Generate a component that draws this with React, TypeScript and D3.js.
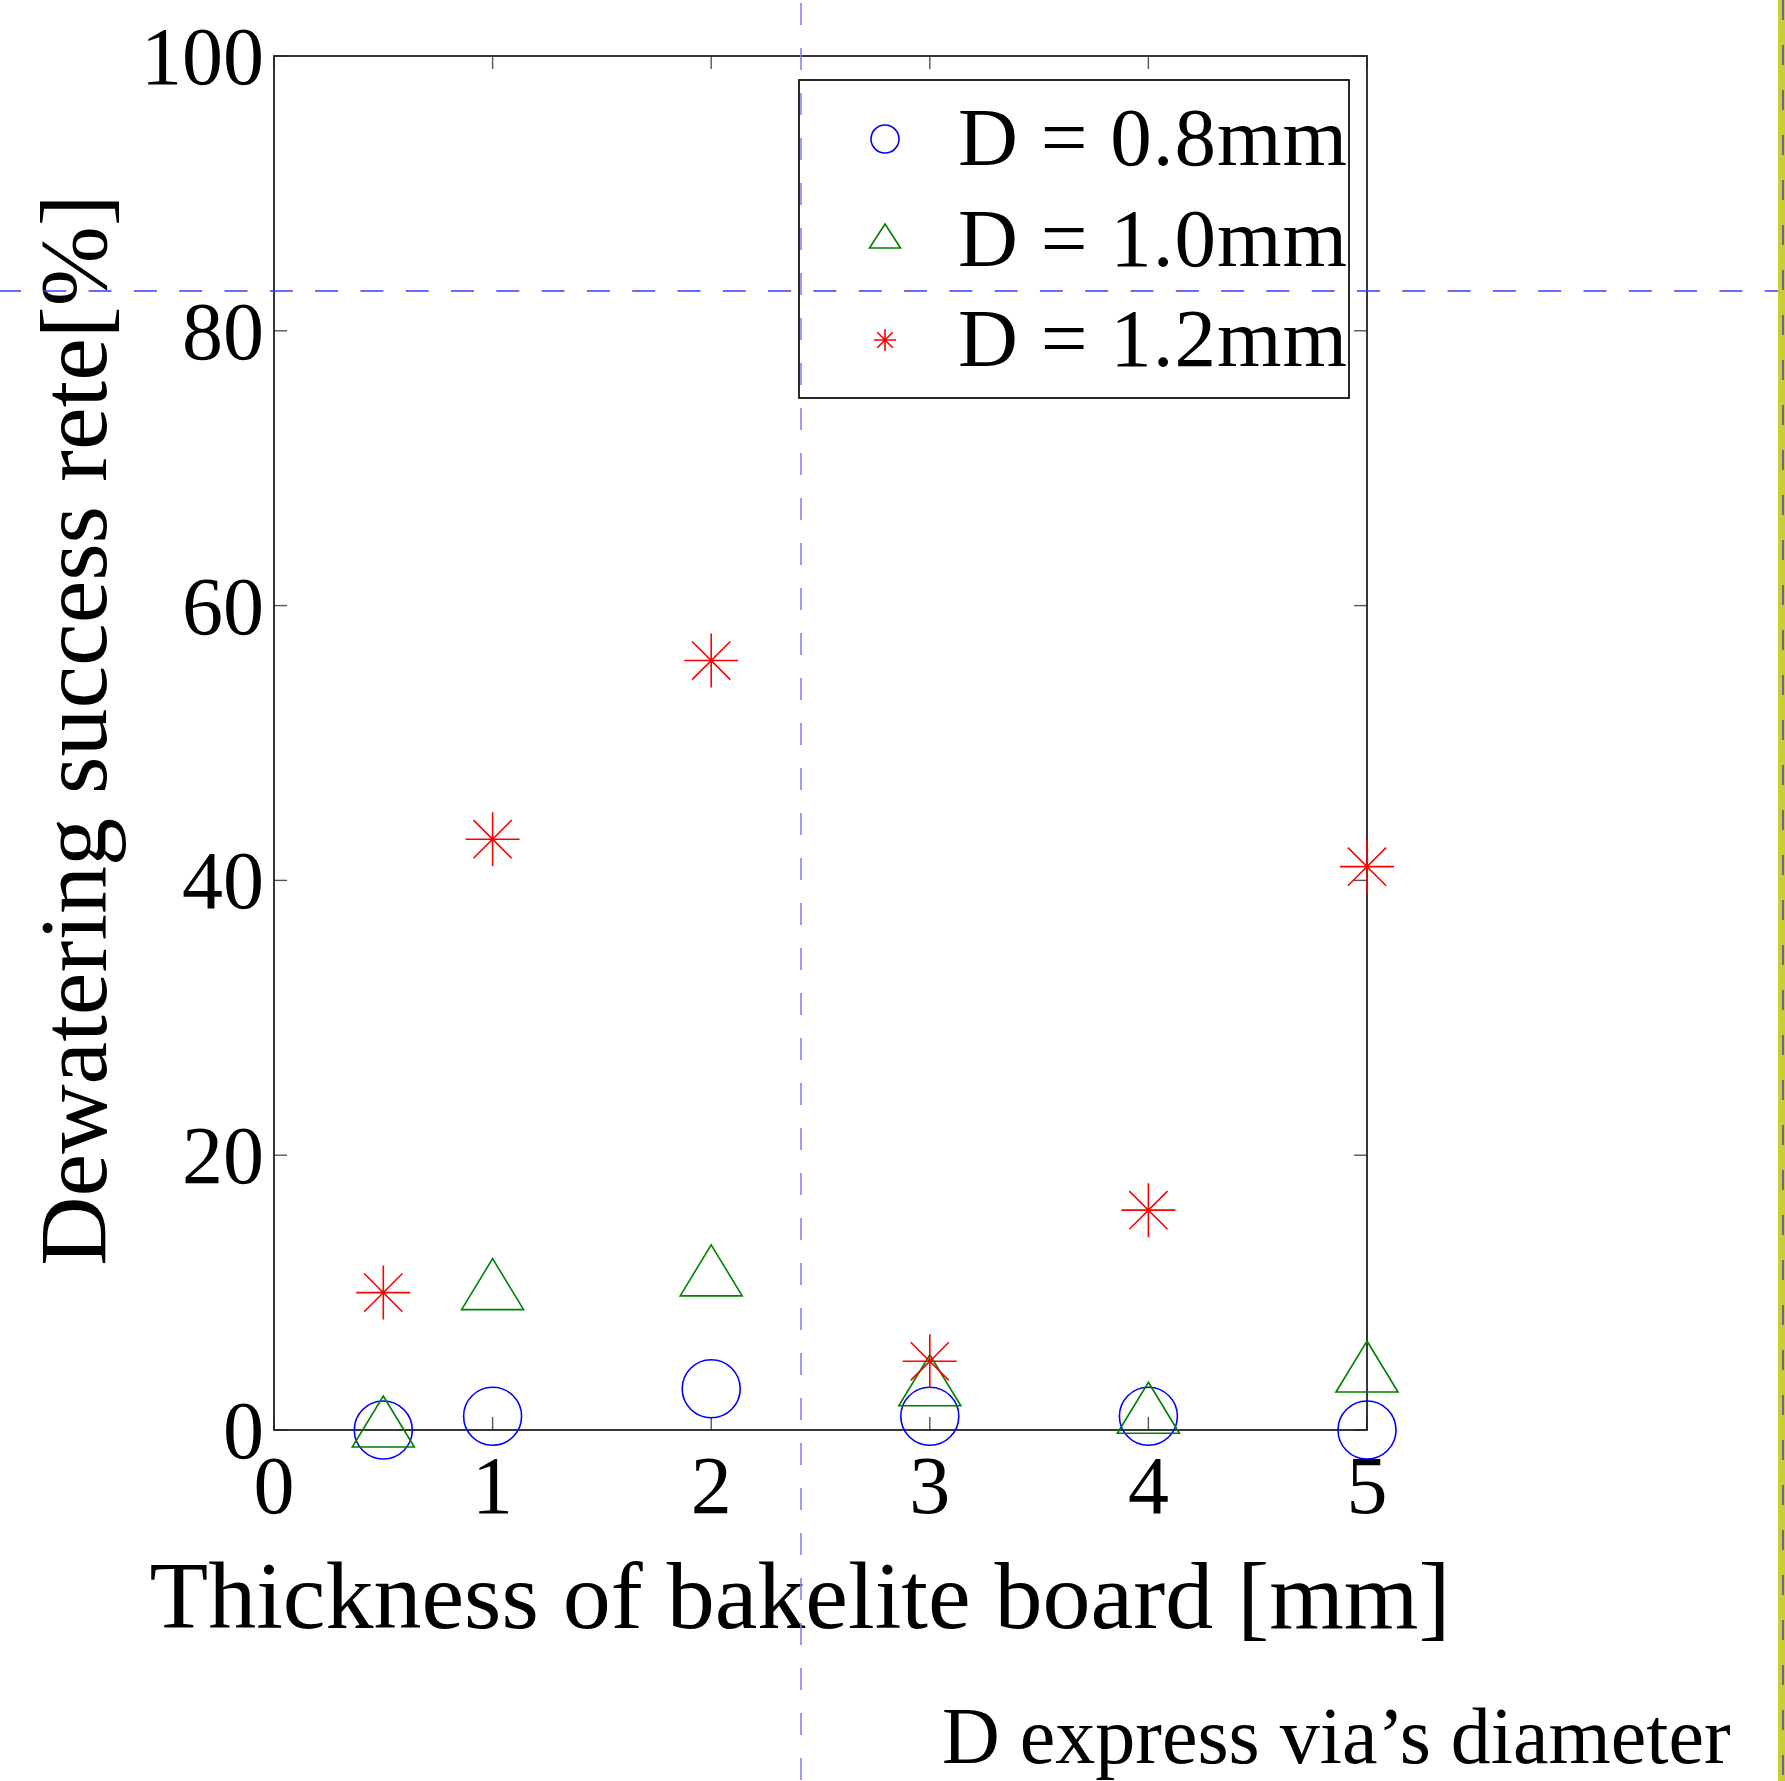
import React from "react";
import * as d3 from "d3";

const thickness = [0.5, 1, 2, 3, 4, 5];
const rateD08 = [0, 1, 3, 1, 1, 0];
const rateD10 = [0, 10, 11, 3, 1, 4];
const rateD12 = [10, 43, 56, 5, 16, 41];
const xTickValues = [0, 1, 2, 3, 4, 5];
const yTickValues = [0, 20, 40, 60, 80, 100];
const legendLabels = ["D = 0.8mm", "D = 1.0mm", "D = 1.2mm"];
const xTitle = "Thickness of bakelite board [mm]";
const yTitle = "Dewatering success rete[%]";
const footnote = "D express via\u2019s diameter";

const W = 1785;
const H = 1781;
const FONT = "'Liberation Serif', 'Times New Roman', Times, serif";

const BLUE = "#0000ff";
const GREEN = "#008000";
const RED = "#ff0000";

function circlePath(r: number) {
  const p = d3.path();
  p.arc(0, 0, r, 0, Math.PI * 2);
  return p.toString();
}
function trianglePath(w: number, h: number) {
  const p = d3.path();
  p.moveTo(0, (-2 * h) / 3);
  p.lineTo(w / 2, h / 3);
  p.lineTo(-w / 2, h / 3);
  p.closePath();
  return p.toString();
}
function starPath(r: number) {
  const p = d3.path();
  const d = r * Math.SQRT1_2;
  p.moveTo(-r, 0); p.lineTo(r, 0);
  p.moveTo(0, -r); p.lineTo(0, r);
  p.moveTo(-d, -d); p.lineTo(d, d);
  p.moveTo(-d, d); p.lineTo(d, -d);
  return p.toString();
}

export default function App() {
  const x = d3.scaleLinear().domain([0, 5]).range([274, 1367]);
  const y = d3.scaleLinear().domain([0, 100]).range([1430, 56]);
  const [x0, x1] = x.range();
  const [y0, y1] = y.range();
  const tickLen = 13;

  const series = [
    { values: rateD08, color: BLUE, path: circlePath(29), legendPath: circlePath(14) },
    { values: rateD10, color: GREEN, path: trianglePath(62, 51), legendPath: trianglePath(31, 24) },
    { values: rateD12, color: RED, path: starPath(27), legendPath: starPath(11) },
  ];

  const legend = { x: 799, y: 80, w: 550, h: 318 };
  const legendRowY = [139, 240, 340];

  return (
    <svg
      width={W}
      height={H}
      style={{ position: "absolute", left: 0, top: 0, background: "#fff" }}
      fontFamily={FONT}
    >
      <rect x={0} y={0} width={W} height={H} fill="#fff" />

      <g stroke="#555" strokeWidth={1.4}>
        {xTickValues.map((t) => (
          <g key={"xt" + t}>
            <line x1={x(t)} x2={x(t)} y1={y0} y2={y0 - tickLen} />
            <line x1={x(t)} x2={x(t)} y1={y1} y2={y1 + tickLen} />
          </g>
        ))}
        {yTickValues.map((t) => (
          <g key={"yt" + t}>
            <line x1={x0} x2={x0 + tickLen} y1={y(t)} y2={y(t)} />
            <line x1={x1} x2={x1 - tickLen} y1={y(t)} y2={y(t)} />
          </g>
        ))}
      </g>

      <rect x={x0} y={y1} width={x1 - x0} height={y0 - y1} fill="none" stroke="#222" strokeWidth={1.8} />

      <g fontSize={82} fill="#000">
        {xTickValues.map((t) => (
          <text key={"xl" + t} x={x(t)} y={1513} textAnchor="middle">
            {t}
          </text>
        ))}
        {yTickValues.map((t) => (
          <text key={"yl" + t} x={x0 - 10} y={y(t) + 28} textAnchor="end">
            {t}
          </text>
        ))}
      </g>

      {series.map((s, si) => (
        <g key={"s" + si} fill="none" stroke={s.color} strokeWidth={1.6}>
          {thickness.map((t, i) => (
            <path key={i} d={s.path} transform={`translate(${x(t)},${y(s.values[i])})`} />
          ))}
        </g>
      ))}

      <rect x={legend.x} y={legend.y} width={legend.w} height={legend.h} fill="#fff" stroke="#111" strokeWidth={1.8} />
      {series.map((s, i) => (
        <g key={"lg" + i}>
          <path
            d={s.legendPath}
            transform={`translate(885,${legendRowY[i]})`}
            fill="none"
            stroke={s.color}
            strokeWidth={1.6}
          />
          <text x={958} y={legendRowY[i] + 26} fontSize={83} letterSpacing={1} fill="#000">
            {legendLabels[i]}
          </text>
        </g>
      ))}

      <text x={800} y={1628} fontSize={96} textAnchor="middle" fill="#000">
        {xTitle}
      </text>
      <text
        transform={`translate(106,730) rotate(-90)`}
        fontSize={96}
        textAnchor="middle"
        fill="#000"
      >
        {yTitle}
      </text>

      <text x={942} y={1763} fontSize={80} fill="#000">
        {footnote}
      </text>

      <line x1={0} x2={1779} y1={291} y2={291} stroke="#3a3aff" strokeWidth={1.4} strokeDasharray="23 22.3" strokeDashoffset={2} />
      <line x1={801} x2={801} y1={0} y2={H} stroke="#8080ff" strokeWidth={1.6} strokeDasharray="22 23" strokeDashoffset={-3} />
      <rect x={1778} y={0} width={7} height={H} fill="#cccc33" />
      <line x1={1783} x2={1783} y1={0} y2={H} stroke="#6666aa" strokeWidth={2} strokeDasharray="20 25" />
    </svg>
  );
}
